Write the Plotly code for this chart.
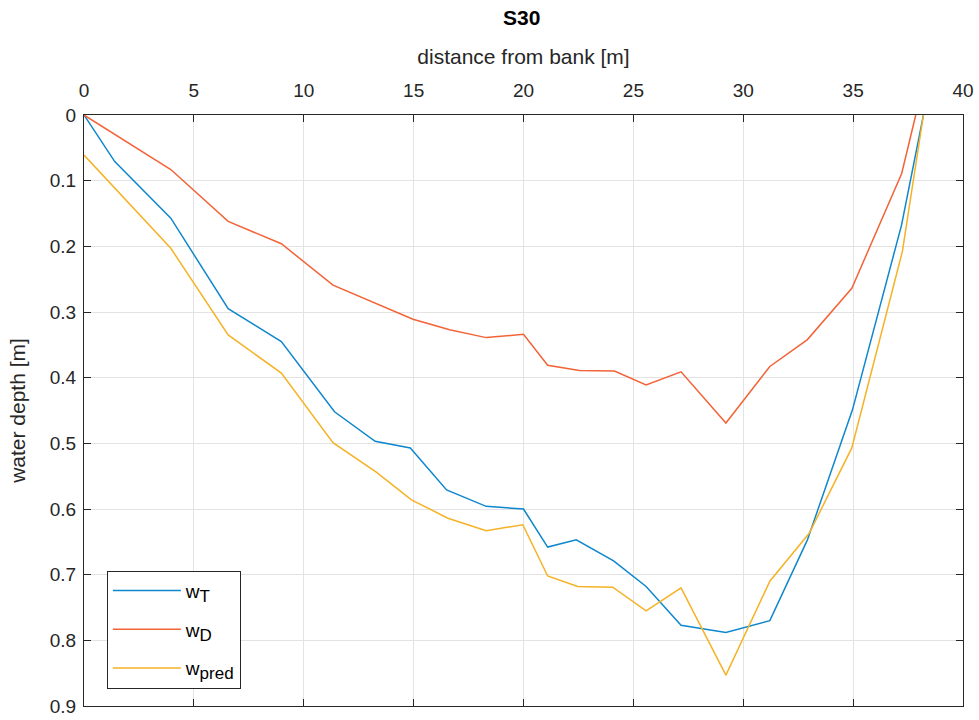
import plotly.graph_objects as go

x_T = [0, 1.4, 3.95, 6.56, 8.98, 11.4, 13.25, 14.85, 16.5, 18.3, 20.0, 21.1, 22.4, 24.1, 25.58, 27.17, 29.21, 31.21, 32.92, 34.97, 37.2, 38.2]
w_T = [0, 0.071, 0.157, 0.295, 0.345, 0.452, 0.497, 0.507, 0.571, 0.596, 0.600, 0.658, 0.647, 0.679, 0.718, 0.777, 0.788, 0.770, 0.647, 0.449, 0.168, 0]

x_D = [0, 3.95, 6.56, 8.98, 11.33, 13.3, 14.97, 16.64, 18.3, 20.0, 21.1, 22.55, 24.14, 25.58, 27.17, 29.21, 31.21, 32.92, 34.94, 37.21, 37.85]
w_D = [0, 0.083, 0.162, 0.196, 0.259, 0.287, 0.311, 0.327, 0.339, 0.334, 0.381, 0.389, 0.390, 0.411, 0.391, 0.469, 0.383, 0.342, 0.264, 0.089, 0]

x_P = [0, 1.4, 3.95, 6.56, 8.98, 11.33, 13.3, 14.9, 16.56, 18.3, 19.97, 21.1, 22.47, 24.06, 25.58, 27.17, 29.21, 31.21, 33.0, 34.94, 37.24, 38.2]
w_P = [0.061, 0.111, 0.203, 0.335, 0.393, 0.499, 0.544, 0.586, 0.614, 0.633, 0.624, 0.702, 0.718, 0.719, 0.755, 0.720, 0.853, 0.710, 0.637, 0.507, 0.208, 0]

x_ticks = [0, 5, 10, 15, 20, 25, 30, 35, 40]
y_ticks = [0, 0.1, 0.2, 0.3, 0.4, 0.5, 0.6, 0.7, 0.8, 0.9]
y_labels = ["0", "0.1", "0.2", "0.3", "0.4", "0.5", "0.6", "0.7", "0.8", "0.9"]

colors = ["#0F87CC", "#F36338", "#F5B224"]
sub = "<sub><span style='font-size:17px'>{}</span></sub>"
names = ["w" + sub.format("T"), "w" + sub.format("D"), "w" + sub.format("pred")]

fig = go.Figure()
for i, (xs, ys, c, n) in enumerate([(x_T, w_T, colors[0], names[0]), (x_D, w_D, colors[1], names[1]), (x_P, w_P, colors[2], names[2])]):
    fig.add_trace(go.Scatter(x=xs, y=ys, mode="lines", name=n, legendgroup=f"g{i}",
                             line=dict(color=c, width=1.5)))

font = "Liberation Sans, Arial, Helvetica, sans-serif"
axcommon = dict(showline=True, linecolor="#262626", linewidth=1, mirror="ticks", ticks="inside",
                ticklen=7, tickcolor="#262626", showgrid=True, gridcolor="#E3E3E3", gridwidth=1,
                zeroline=False, automargin=False,
                tickfont=dict(size=19, color="#262626", family=font))

fig.update_layout(
    width=979, height=720,
    margin=dict(l=84, r=16, t=115, b=14),
    paper_bgcolor="white", plot_bgcolor="white",
    font=dict(family=font, color="#262626"),
    title=dict(text="<b>S30</b>", x=0.533, xanchor="center", y=0.975, yanchor="middle",
               font=dict(size=21, color="#000000", family=font)),
    xaxis=dict(range=[0, 40], side="top", tickvals=x_ticks, ticklabelstandoff=9,
               title=dict(text="distance from bank [m]", font=dict(size=21, color="#262626"), standoff=10),
               **axcommon),
    yaxis=dict(range=[0.9, 0], tickvals=y_ticks, ticktext=y_labels, ticklabelstandoff=3,
               title=dict(text="water depth [m]", font=dict(size=21, color="#262626"), standoff=18),
               **axcommon),
    legend=dict(x=0.026, y=0.229, xanchor="left", yanchor="top", bordercolor="#262626", borderwidth=1,
                bgcolor="white", font=dict(size=19, color="#000000", family=font), tracegroupgap=11,
                itemwidth=68),
    showlegend=True,
)

fig.write_html("out.html", config={"displayModeBar": False},
               post_script="document.body.style.margin='0';")
